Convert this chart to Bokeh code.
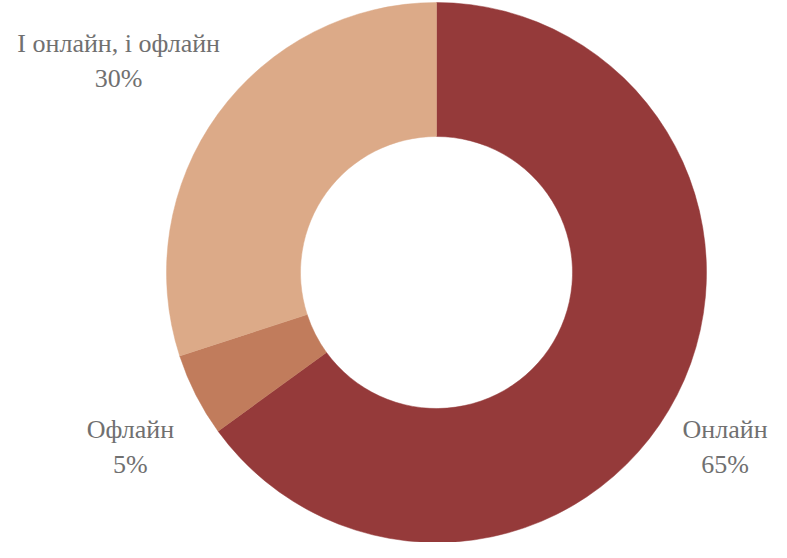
import math
from bokeh.plotting import figure
from bokeh.models import ColumnDataSource
from bokeh.core.properties import value
from bokeh.embed import file_html
from bokeh.resources import INLINE

categories = ["Онлайн", "Офлайн", "І онлайн, і офлайн"]
shares = [65, 5, 30]
colors = ["#953a3a", "#c17c5c", "#dcaa88"]

# label placement (style): distance from centre and small angular nudge, degrees
label_radius = [337, 352, 382]
label_nudge = [-4.1, 2.6, 2.3]

W, H = 771, 542
cx, cy = 436, 270
r_out, r_in = 270, 136

total = sum(shares)
starts, ends, lx, ly, pct = [], [], [], [], []
cum = 0
for s, lr, nd in zip(shares, label_radius, label_nudge):
    a0 = math.pi / 2 - 2 * math.pi * cum / total
    cum += s
    a1 = math.pi / 2 - 2 * math.pi * cum / total
    starts.append(a0)
    ends.append(a1)
    mid = (a0 + a1) / 2 + math.radians(nd)
    lx.append(cx + lr * math.cos(mid))
    ly.append(cy + lr * math.sin(mid))
    pct.append(f"{s}%")

src = ColumnDataSource(dict(cat=categories, start=starts, end=ends, color=colors,
                            lx=lx, ly=ly, pct=pct, x=[cx] * 3, y=[cy] * 3))

p = figure(width=W, height=H, x_range=(0, W), y_range=(0, H),
           output_backend="svg", toolbar_location=None, min_border=0,
           outline_line_color=None)
p.axis.visible = False
p.grid.visible = False

p.annular_wedge(x="x", y="y", inner_radius=r_in, outer_radius=r_out,
                start_angle="start", end_angle="end", direction="clock",
                fill_color="color", line_color="color", line_width=0.5, source=src)

font = value("Liberation Serif")
p.text(x="lx", y="ly", text="cat", source=src, text_font=font, text_font_size="26px",
       text_color="#707070", text_align="center", text_baseline="middle", y_offset=-17)
p.text(x="lx", y="ly", text="pct", source=src, text_font=font, text_font_size="26px",
       text_color="#707070", text_align="center", text_baseline="middle", y_offset=18)

open("out.html", "w").write(file_html(p, INLINE))
